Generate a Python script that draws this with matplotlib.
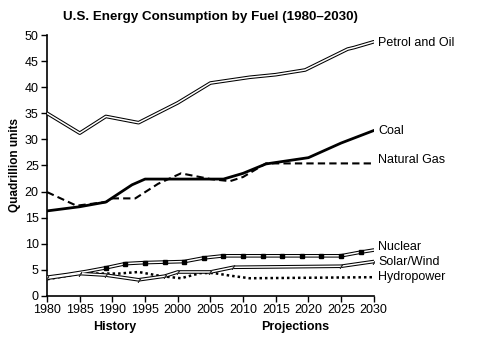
import matplotlib.pyplot as plt

plt.rcParams["font.family"] = ["Liberation Sans", "DejaVu Sans"]

# data (quadrillion units)
oil_years = [1980, 1985, 1989, 1994, 2000, 2005, 2011, 2015, 2019.5, 2026, 2027, 2030]
oil = [35.0, 31.2, 34.4, 33.2, 37.0, 40.8, 41.9, 42.4, 43.3, 47.3, 47.6, 48.7]

coal_years = [1980, 1985, 1989, 1993, 1995, 2003, 2007, 2010, 2013.5, 2020, 2025, 2030]
coal = [16.3, 17.1, 18.0, 21.3, 22.4, 22.4, 22.4, 23.5, 25.3, 26.5, 29.3, 31.7]

gas_years = [1980, 1984.5, 1989, 1990, 1993.5, 1997, 2000.5, 2005, 2008, 2010, 2013.5, 2030]
gas = [19.9, 17.3, 18.0, 18.7, 18.7, 21.5, 23.5, 22.4, 22.0, 22.8, 25.4, 25.4]

nuc_years = [1980, 1983, 1986, 1989, 1992, 1995, 1998, 2001, 2004, 2007, 2010,
             2013, 2016, 2019, 2022, 2025, 2028, 2030]
nuclear = [3.6, 4.1, 4.7, 5.4, 6.2, 6.4, 6.5, 6.6, 7.3, 7.7, 7.7,
           7.7, 7.7, 7.7, 7.7, 7.7, 8.4, 8.8]

sol_years = [1980, 1985, 1989, 1994, 1998, 2000, 2005, 2008.5, 2025, 2030]
solar = [3.4, 4.3, 4.0, 3.1, 3.8, 4.6, 4.6, 5.5, 5.7, 6.6]

hyd_years = [1980, 1985, 1991, 1994, 1997.5, 2000.5, 2003.5, 2005.5, 2008, 2011, 2030]
hydro = [3.2, 4.3, 4.3, 4.6, 3.8, 3.4, 4.4, 4.4, 3.9, 3.4, 3.6]

labels = ["Petrol and Oil", "Coal", "Natural Gas", "Nuclear", "Solar/Wind", "Hydropower"]
label_y = [48.5, 31.7, 26.0, 9.3, 6.6, 3.7]

fig = plt.figure(figsize=(5.01, 3.59), dpi=100)
ax = fig.add_axes([0.094, 0.1755, 0.652, 0.727])


def double_line(x, y):
    ax.plot(x, y, color="black", lw=2.6, solid_capstyle="round", solid_joinstyle="round", zorder=3)
    ax.plot(x, y, color="white", lw=1.1, solid_capstyle="round", solid_joinstyle="round", zorder=4)


double_line(oil_years, oil)
ax.plot(coal_years, coal, color="black", lw=2.0, zorder=3)
ax.plot(gas_years, gas, color="black", lw=1.5, ls=(0, (3.5, 2)), zorder=3)
double_line(nuc_years, nuclear)
ax.plot(nuc_years, nuclear, ls="none", marker="s", ms=2.2, color="black",
        markevery=list(range(3, 17)), zorder=5)
double_line(sol_years, solar)
ax.plot(sol_years, solar, ls="none", marker=(2, 2, -35), ms=3.5, mew=0.7,
        color="#333333", markevery=0.035, zorder=5)
ax.plot(hyd_years, hydro, color="black", lw=1.8, ls=(0, (1, 1.2)), zorder=2)

for txt, yy in zip(labels, label_y):
    ax.text(2030.7, yy, txt, fontsize=9, va="center", ha="left", clip_on=False)

ax.set_xlim(1980, 2030)
ax.set_ylim(0, 50)
ax.set_xticks(range(1980, 2031, 5))
ax.set_yticks(range(0, 51, 5))
ax.tick_params(labelsize=9, length=4, width=1, pad=2)
for s in ["top", "right"]:
    ax.spines[s].set_visible(False)
for s in ["left", "bottom"]:
    ax.spines[s].set_linewidth(1.2)

ax.set_ylabel("Quadrillion units", fontsize=8.5, fontweight="bold", labelpad=3)
fig.text(0.23, 0.09, "History", fontsize=9, fontweight="bold", ha="center", va="center")
fig.text(0.59, 0.09, "Projections", fontsize=9, fontweight="bold", ha="center", va="center")
fig.text(0.42, 0.953, "U.S. Energy Consumption by Fuel (1980\u20132030)",
         fontsize=9.6, fontweight="bold", ha="center", va="center")

fig.savefig("out.png", dpi=100)
